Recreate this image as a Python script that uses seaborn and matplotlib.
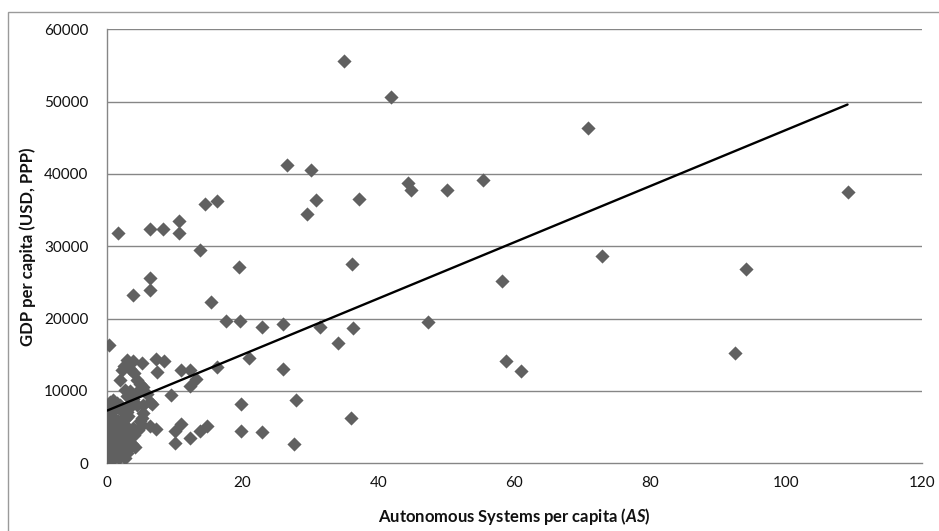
import numpy as np
import pandas as pd
import matplotlib
matplotlib.use("Agg")
import matplotlib.pyplot as plt
import seaborn as sns
from matplotlib.patches import Rectangle

# ---- data ----
as_per_capita = [
    1.7, 6.4, 8.3, 10.7, 10.7, 14.5, 16.2, 13.7, 19.5, 6.4, 6.4, 3.9,
    26.5, 30.0, 29.4, 30.8, 34.9, 37.1, 36.1, 41.8, 44.4, 44.7, 50.0, 55.4,
    70.8, 72.9, 58.1, 109.0, 94.0, 92.4,
    22.8, 26.0, 31.4, 36.2, 34.1, 47.2, 26.0, 58.8, 60.9, 27.8, 22.8, 27.6, 35.9,
    15.3, 17.5, 19.6, 20.9, 16.2, 19.8, 19.8,
    14.7, 13.7, 12.2, 11.0, 10.1, 10.0,
    13.2, 12.2, 12.2, 10.9, 9.4, 7.2, 8.4, 7.4, 0.4,
    3.0, 3.9, 5.2, 2.3, 2.0, 4.5, 4.9, 5.4, 5.9, 6.7, 5.4, 4.4, 0.8, 1.6,
    3.0, 3.2, 5.4, 3.9, 6.4, 7.2, 6.4, 5.2, 5.2,
    0.5, 1.5, 3.4, 2.5, 4.9, 0.5, 2.5, 3.5, 4.0, 3.5, 4.5, 3.0, 2.7,
    1.0, 2.0, 3.2, 2.8,
    0.1, 0.2, 0.3, 0.1, 0.4, 0.2, 0.5, 0.3, 0.6, 0.2,
    0.8, 1.0, 1.2, 0.9, 1.3, 1.1, 1.5, 1.0, 1.4, 0.7,
    1.8, 2.0, 2.3, 1.9, 2.5, 2.2, 2.8, 1.7, 2.6, 0.4,
    3.0, 3.3, 2.9, 3.5, 3.2, 3.8, 2.7, 0.6, 1.5, 3.7,
    4.2, 4.0, 4.6, 2.1, 1.2,
]
gdp_per_capita = [
    31800, 32400, 32400, 33500, 31900, 35900, 36300, 29500, 27100, 25600, 23900, 23300,
    41200, 40600, 34500, 36400, 55600, 36600, 27600, 50600, 38700, 37800, 37800, 39100,
    46300, 28600, 25200, 37500, 26900, 15300,
    18800, 19300, 18900, 18700, 16700, 19500, 13000, 14100, 12800, 8800, 4300, 2600, 6200,
    22300, 19700, 19700, 14500, 13300, 8200, 4400,
    5200, 4400, 3500, 5400, 4400, 2800,
    11600, 10700, 12900, 12900, 9400, 14400, 14200, 12600, 16400,
    14300, 14100, 13800, 12900, 11500, 11500, 11000, 10500, 9600, 8200, 8000, 8000, 8200, 7800,
    7100, 6600, 6900, 8900, 8500, 4700, 5100, 6200, 5300,
    8500, 8300, 7800, 6900, 5900, 6400, 13500, 13000, 12500, 10000, 9800, 9300, 10200,
    8700, 8000, 7800, 6200,
    300, 800, 1500, 2200, 2900, 3600, 4300, 5000, 5600, 6200,
    500, 1200, 1900, 2600, 3300, 4000, 4700, 5400, 6000, 7000,
    800, 1600, 2300, 3100, 3800, 4500, 5200, 5800, 6300, 7500,
    1400, 2100, 2900, 3500, 4300, 4900, 700, 1000, 2500, 2700,
    2300, 3900, 4600, 7300, 7600,
]
# linear trendline end points
trend_as = [0.1, 109.0]
trend_gdp = [7300, 49600]

x_ticks = [0, 20, 40, 60, 80, 100, 120]
y_ticks = [0, 10000, 20000, 30000, 40000, 50000, 60000]
x_label = r"Autonomous Systems per capita ($\mathit{AS}$)"
y_label = "GDP per capita (USD, PPP)"

df = pd.DataFrame({"as": as_per_capita, "gdp": gdp_per_capita})
trend = pd.DataFrame({"as": trend_as, "gdp": trend_gdp})

# ---- style ----
sns.set_theme(style="white")
plt.rcParams["font.family"] = ["Lato", "DejaVu Sans"]
plt.rcParams["mathtext.fontset"] = "custom"
plt.rcParams["mathtext.it"] = "Lato:italic:bold"
plt.rcParams["mathtext.rm"] = "Lato:bold"

fig = plt.figure(figsize=(9.39, 5.31), dpi=100)
ax = fig.add_axes([106.7 / 939, 1 - 463.3 / 531, (922.3 - 106.7) / 939, (463.3 - 29.3) / 531])

grid_c = "#868686"
for yv in y_ticks[1:]:
    ax.axhline(yv, color=grid_c, lw=1.0, zorder=0)

sns.scatterplot(data=df, x="as", y="gdp", ax=ax, marker="D", s=52,
                color="#606060", linewidth=0, zorder=3, legend=False)
sns.lineplot(data=trend, x="as", y="gdp", ax=ax, color="black", lw=1.7,
             zorder=4, legend=False)

ax.set_xlim(0, 120)
ax.set_ylim(0, 60000)
ax.set_xticks(x_ticks)
ax.set_yticks(y_ticks)
ax.set_xticklabels([str(v) for v in x_ticks])
ax.set_yticklabels([str(v) for v in y_ticks])
ax.tick_params(axis="both", which="major", direction="out", length=4, width=1,
               color=grid_c, labelsize=11, labelcolor="#111111")
ax.tick_params(axis="y", pad=9)
ax.tick_params(axis="x", pad=5)

for side in ["top", "right"]:
    ax.spines[side].set_visible(False)
for side in ["left", "bottom"]:
    ax.spines[side].set_color(grid_c)
    ax.spines[side].set_linewidth(1.0)

ax.set_xlabel(x_label, fontsize=12, fontweight="bold", labelpad=12, color="#111111")
ax.set_ylabel(y_label, fontsize=12, fontweight="bold", labelpad=6, color="#111111")

# chart-area border (cropped at right/bottom)
fig.patches.append(Rectangle((8 / 939, -0.05), 1.2, 1 - 12 / 531 + 0.05,
                             transform=fig.transFigure, fill=False,
                             edgecolor="#9a9a9a", lw=1.0))

fig.savefig("out.png", dpi=100)
